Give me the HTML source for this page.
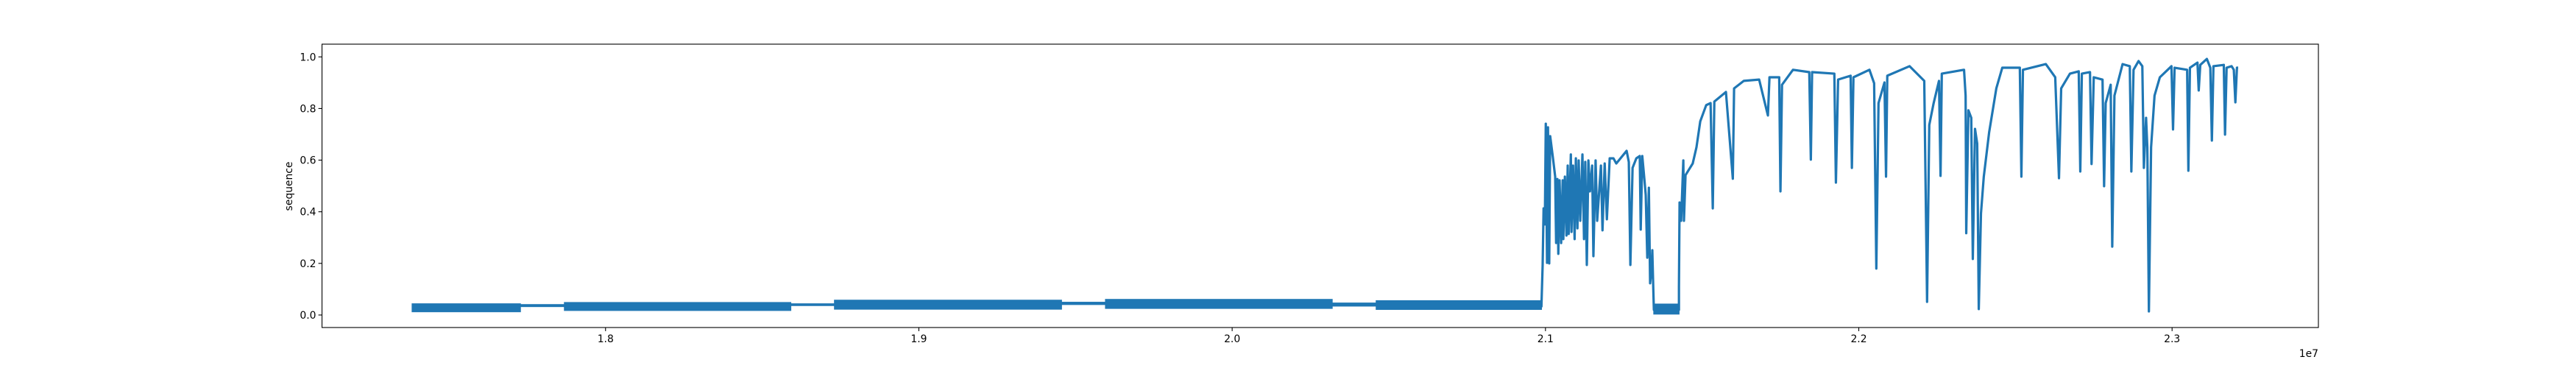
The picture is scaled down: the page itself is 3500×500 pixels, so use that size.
<!DOCTYPE html>
<html><head><meta charset="utf-8"><style>
html,body{margin:0;padding:0;background:#fff;}
svg{display:block;font-family:"DejaVu Sans","Liberation Sans",sans-serif;}
</style></head>
<body>
<svg id="chart" width="3500" height="500" xmlns="http://www.w3.org/2000/svg">
<rect x="0" y="0" width="3500" height="500" fill="#fff"/>
<g id="plot"></g>
<g id="axes"></g>
</svg>
<script>
// axis domains (units of 1e7 on x)
const xDomain = [1.7095, 2.3467];
const yDomain = [-0.0485, 1.0493];
const xTickValues = [1.8, 1.9, 2.0, 2.1, 2.2, 2.3];
const xTickLabels = ["1.8", "1.9", "2.0", "2.1", "2.2", "2.3"];
const yTickValues = [0.0, 0.2, 0.4, 0.6, 0.8, 1.0];
const yTickLabels = ["0.0", "0.2", "0.4", "0.6", "0.8", "1.0"];
// noisy flat segments: start x, end x, low y, high y
const bandStart = [1.7383, 1.7728, 1.7869, 1.8591, 1.8731, 1.9455, 1.9596, 2.0319, 2.0460, 2.1346];
const bandEnd   = [1.7728, 1.7869, 1.8591, 1.8731, 1.9455, 1.9596, 2.0319, 2.0460, 2.0987, 2.1426];
const bandLow   = [0.013, 0.033, 0.018, 0.037, 0.023, 0.041, 0.026, 0.035, 0.022, 0.004];
const bandHigh  = [0.043, 0.040, 0.048, 0.043, 0.057, 0.049, 0.060, 0.046, 0.055, 0.042];
// main trace
const seqX = [2.0987,2.0991,2.0994,2.0998,2.1001,2.1005,2.1008,2.1012,2.1015,2.1024,2.1031,2.1034,2.1038,2.1041,2.1045,2.1050,2.1055,2.1057,2.1062,2.1067,2.1071,2.1074,2.1081,2.1083,2.1088,2.1093,2.1097,2.1102,2.1106,2.1111,2.1118,2.1123,2.1127,2.1132,2.1137,2.1142,2.1149,2.1153,2.1160,2.1165,2.1177,2.1182,2.1189,2.1196,2.1205,2.1217,2.1226,2.1259,2.1266,2.1271,2.1278,2.1290,2.1301,2.1304,2.1309,2.1316,2.1320,2.1325,2.1330,2.1334,2.1339,2.1341,2.1344,2.1346,
2.1426,2.1426,2.1428,2.1433,2.1440,2.1442,2.1447,2.1470,2.1482,2.1494,2.1513,2.1527,2.1534,2.1539,2.1576,2.1598,2.1602,2.1633,2.1682,2.1710,2.1715,2.1746,2.1750,2.1755,2.1790,2.1842,2.1847,2.1851,2.1922,2.1927,2.1934,2.1974,2.1978,2.1983,2.2034,2.2049,2.2056,2.2063,2.2082,2.2087,2.2091,2.2162,2.2209,2.2218,2.2225,2.2239,2.2256,2.2261,2.2265,2.2336,2.2341,2.2343,2.2350,2.2359,2.2364,2.2371,2.2378,2.2383,2.2390,2.2399,2.2416,2.2439,2.2458,2.2514,2.2519,2.2524,2.2597,2.2627,2.2639,2.2646,2.2674,2.2702,2.2707,2.2712,2.2738,2.2743,2.2750,2.2778,2.2783,2.2788,2.2804,2.2809,2.2816,2.2842,2.2865,2.2870,2.2877,2.2893,2.2905,2.2910,2.2917,2.2921,2.2926,2.2933,2.2944,2.2961,2.2998,2.3003,2.3008,2.3048,2.3052,2.3057,2.3081,2.3085,2.3090,2.3111,2.3122,2.3127,2.3132,2.3165,2.3169,2.3174,2.3190,2.3197,2.3202,2.3207,2.3211];
const seqY = [0.030,0.194,0.413,0.351,0.741,0.202,0.727,0.200,0.693,0.607,0.536,0.279,0.527,0.237,0.522,0.279,0.522,0.294,0.536,0.308,0.579,0.314,0.622,0.322,0.579,0.294,0.607,0.336,0.599,0.365,0.622,0.294,0.593,0.194,0.599,0.479,0.579,0.228,0.599,0.365,0.579,0.328,0.587,0.371,0.607,0.607,0.587,0.636,0.593,0.194,0.570,0.607,0.616,0.331,0.616,0.522,0.465,0.222,0.493,0.123,0.180,0.251,0.108,0.020,
0.020,0.108,0.436,0.365,0.599,0.365,0.542,0.587,0.650,0.750,0.813,0.821,0.413,0.827,0.864,0.528,0.878,0.907,0.912,0.773,0.921,0.921,0.479,0.892,0.950,0.941,0.602,0.941,0.935,0.513,0.912,0.927,0.570,0.921,0.950,0.898,0.180,0.821,0.901,0.536,0.927,0.964,0.907,0.051,0.736,0.821,0.907,0.539,0.935,0.950,0.850,0.317,0.793,0.764,0.217,0.721,0.664,0.023,0.393,0.536,0.707,0.878,0.958,0.958,0.536,0.950,0.972,0.921,0.530,0.878,0.935,0.944,0.556,0.935,0.941,0.585,0.921,0.912,0.499,0.821,0.892,0.265,0.850,0.972,0.964,0.556,0.950,0.984,0.964,0.570,0.764,0.650,0.014,0.650,0.850,0.921,0.964,0.719,0.958,0.950,0.559,0.958,0.978,0.870,0.969,0.992,0.958,0.676,0.964,0.969,0.699,0.958,0.964,0.950,0.824,0.958,0.958];

const L = 437.5, R = 3150, T = 60, B = 445;
function sx(v){ return L + (v - xDomain[0]) / (xDomain[1] - xDomain[0]) * (R - L); }
function sy(v){ return B - (v - yDomain[0]) / (yDomain[1] - yDomain[0]) * (B - T); }
const NS = "http://www.w3.org/2000/svg";
const plot = document.getElementById('plot');
const axes = document.getElementById('axes');
const COLOR = "#1f77b4";

for (let i = 0; i < bandStart.length; i++) {
  const r = document.createElementNS(NS, 'rect');
  
  
  r.setAttribute('x', sx(bandStart[i]) - 0.75);
  r.setAttribute('width', sx(bandEnd[i]) - sx(bandStart[i]) + 1.5);
  r.setAttribute('y', sy(bandHigh[i]) - 0.75);
  r.setAttribute('height', sy(bandLow[i]) - sy(bandHigh[i]) + 1.5);
  r.setAttribute('fill', COLOR);
  plot.appendChild(r);
}
let d = "";
for (let i = 0; i < seqX.length; i++) {
  d += (i ? "L" : "M") + sx(seqX[i]).toFixed(2) + "," + sy(seqY[i]).toFixed(2);
}
const line = document.createElementNS(NS, 'path');


line.setAttribute('d', d);
line.setAttribute('fill', 'none');
line.setAttribute('stroke', COLOR);
line.setAttribute('stroke-width', '3.2');
line.setAttribute('stroke-linejoin', 'round');
plot.appendChild(line);

const frame = document.createElementNS(NS, 'rect');


frame.setAttribute('x', L); frame.setAttribute('y', T);
frame.setAttribute('width', R - L); frame.setAttribute('height', B - T);
frame.setAttribute('fill', 'none'); frame.setAttribute('stroke', '#000'); frame.setAttribute('stroke-width', '1.1');
axes.appendChild(frame);

for (let i = 0; i < xTickValues.length; i++) {
  const x = sx(xTickValues[i]);
  const t = document.createElementNS(NS, 'line');
  
  
  t.setAttribute('x1', x); t.setAttribute('x2', x); t.setAttribute('y1', B); t.setAttribute('y2', B + 4.9);
  t.setAttribute('stroke', '#000'); t.setAttribute('stroke-width', '1.1');
  axes.appendChild(t);
  const lb = document.createElementNS(NS, 'text');
  
  
  lb.setAttribute('x', x); lb.setAttribute('y', B + 20);
  lb.setAttribute('text-anchor', 'middle'); lb.setAttribute('font-size', '13.9');
  lb.textContent = xTickLabels[i];
  axes.appendChild(lb);
}
for (let i = 0; i < yTickValues.length; i++) {
  const y = sy(yTickValues[i]);
  const t = document.createElementNS(NS, 'line');
  
  
  t.setAttribute('x1', L - 4.9); t.setAttribute('x2', L); t.setAttribute('y1', y); t.setAttribute('y2', y);
  t.setAttribute('stroke', '#000'); t.setAttribute('stroke-width', '1.1');
  axes.appendChild(t);
  const lb = document.createElementNS(NS, 'text');
  
  
  lb.setAttribute('x', L - 8); lb.setAttribute('y', y + 5);
  lb.setAttribute('text-anchor', 'end'); lb.setAttribute('font-size', '13.9');
  lb.textContent = yTickLabels[i];
  axes.appendChild(lb);
}
</script>
<svg style="position:absolute;left:0;top:0" width="3500" height="500" xmlns="http://www.w3.org/2000/svg">
<text x="0" y="0" transform="translate(397,253) rotate(-90)" text-anchor="middle" font-size="13.9" font-family="DejaVu Sans, Liberation Sans, sans-serif">sequence</text>
<text x="3150" y="485" text-anchor="end" font-size="13.9" font-family="DejaVu Sans, Liberation Sans, sans-serif">1e7</text>
</svg>
</body></html>
